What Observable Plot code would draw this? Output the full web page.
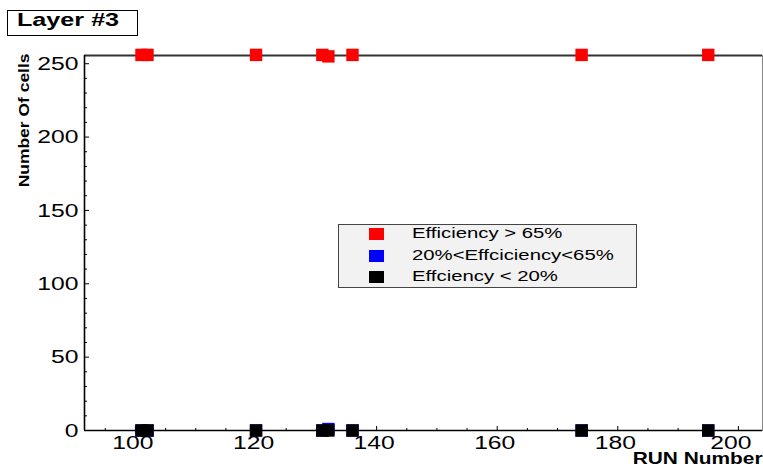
<!DOCTYPE html>
<html><head><meta charset="utf-8">
<script src="https://cdn.jsdelivr.net/npm/d3@7"></script>
<script src="https://cdn.jsdelivr.net/npm/@observablehq/plot@0.6"></script>
<style>
body{margin:0;background:#fff;}
#wrap{position:relative;width:763px;height:470px;overflow:hidden;font-family:"Liberation Sans",Arial,sans-serif;background:#fff;}
#wrap svg{position:absolute;left:0;top:0;}
.abs{position:absolute;box-sizing:border-box;}
.stretch{display:inline-block;white-space:nowrap;transform-origin:0 50%;}
</style></head><body><div id="wrap"></div>
<script>
// ---- data ----
const runs = [101, 102, 120, 131, 132, 136, 174, 195];
const cellsHigh = [256, 256, 256, 256, 255, 256, 256, 256];
const cellsMid = [0, 0, 0, 0, 1, 0, 0, 0];
const cellsLow = [0, 0, 0, 0, 0, 0, 0, 0];
const seriesNames = ["Efficiency > 65%", "20%<Effciciency<65%", "Effciency < 20%"];
const seriesColors = ["#ff0000", "#0000ff", "#000000"];
const xMajor = [100, 120, 140, 160, 180, 200];
const xMinor = [95, 105, 110, 115, 125, 130, 135, 145, 150, 155, 165, 170, 175, 185, 190, 195];
const yMajor = [0, 50, 100, 150, 200, 250];
const yMinor = [10, 20, 30, 40, 60, 70, 80, 90, 110, 120, 130, 140, 160, 170, 180, 190, 210, 220, 230, 240];
const xDomain = [91.55, 204];
const yDomain = [0, 255.6];
const titleText = "Layer #3";
const xTitle = "RUN Number";
const yTitle = "Number Of cells";

const seriesValues = [cellsHigh, cellsMid, cellsLow];
const series = seriesValues.map(vals => runs.map((r, i) => ({run: r, cells: vals[i]})));

const plot = Plot.plot({
  width: 763, height: 470,
  marginLeft: 84, marginRight: 1, marginTop: 55, marginBottom: 40,
  style: {fontFamily: '"Liberation Sans", Arial, sans-serif', background: "transparent", color: "#000"},
  x: {domain: xDomain},
  y: {domain: yDomain},
  marks: [
    Plot.frame({stroke: "#888", strokeWidth: 1}),
    Plot.ruleY([yDomain[1]], {stroke: "#333", strokeWidth: 1.8}),
    Plot.ruleY([0], {stroke: "#000", strokeWidth: 1.6}),
    Plot.ruleX([xDomain[0]], {stroke: "#000", strokeWidth: 1.6}),
    Plot.axisY(yMajor, {tickSize: -5, tickFormat: () => "", label: null}),
    Plot.axisY(yMinor, {tickSize: -3, tickFormat: () => "", label: null}),
    Plot.axisX(xMajor, {tickSize: -4, tickFormat: () => "", label: null}),
    Plot.axisX(xMinor, {tickSize: -2, tickFormat: () => "", label: null}),
    Plot.axisY(yMajor, {tickSize: 0, tickPadding: 6, fontSize: 19, label: null}),
    Plot.axisX(xMajor, {tickSize: 0, tickPadding: 5, dx: -2.5, fontSize: 19, label: null}),
    ...series.map((d, k) => Plot.dot(d, {x: "run", y: "cells", fill: seriesColors[k], symbol: "square", r: 7})),
    Plot.text([yTitle], {frameAnchor: "top-left", rotate: -90, textAnchor: "end", dx: -66, dy: -2, fontSize: 15, fontWeight: "bold"}),
    Plot.text([xTitle], {frameAnchor: "bottom-right", textAnchor: "end", dy: 33.5, fontSize: 16.3, fontWeight: "bold"})
  ]
});

// horizontal stretch of text, as in the reference rendering
const svg = d3.select(plot.tagName.toLowerCase() === "svg" ? plot : plot.querySelector("svg"));
function stretch(sel, sx, sy) {
  sel.each(function() {
    const t = this.getAttribute("transform") || "";
    this.setAttribute("transform", t + ` scale(${sx},${sy})`);
  });
}
stretch(svg.selectAll('g[aria-label="y-axis tick label"] text'), 1.3, 1);
stretch(svg.selectAll('g[aria-label="x-axis tick label"] text'), 1.3, 1);
svg.selectAll('g[aria-label="x-axis tick label"] text').each(function() {
  if (this.textContent === String(xMajor[xMajor.length - 1])) {
    this.setAttribute("transform", this.getAttribute("transform").replace(/translate\(([-\d.]+)/, (m, v) => `translate(${+v - 5}`));
  }
});
svg.selectAll("text").each(function() {
  if (this.textContent === yTitle) stretch(d3.select(this), 1.165, 1);
  if (this.textContent === xTitle) stretch(d3.select(this), 1.28, 1);
});

const wrap = document.getElementById("wrap");
wrap.appendChild(plot);

// title box
const tb = document.createElement("div");
tb.className = "abs";
Object.assign(tb.style, {left: "7px", top: "10px", width: "131px", height: "26px", border: "1.5px solid #000", background: "#fff"});
wrap.appendChild(tb);
const tt = document.createElement("div");
tt.className = "abs";
Object.assign(tt.style, {left: "17px", top: "10.9px", fontSize: "18.5px", lineHeight: "18.5px", fontWeight: "bold", color: "#000"});
tt.innerHTML = `<span class="stretch" style="transform:scaleX(1.36)"></span>`;
tt.firstChild.textContent = titleText;
wrap.appendChild(tt);

// legend
const lb = document.createElement("div");
lb.className = "abs";
Object.assign(lb.style, {left: "338px", top: "224px", width: "299px", height: "64px", border: "1.5px solid #444", background: "#f2f2f2"});
wrap.appendChild(lb);
seriesNames.forEach((name, k) => {
  const sw = document.createElement("div");
  sw.className = "abs";
  Object.assign(sw.style, {left: "368.5px", top: (227.8 + k * 21.8) + "px", width: "15px", height: "12px", background: seriesColors[k]});
  wrap.appendChild(sw);
  const lt = document.createElement("div");
  lt.className = "abs";
  Object.assign(lt.style, {left: "412px", top: (224.7 + k * 21.8) + "px", fontSize: "15.4px", lineHeight: "15.4px", color: "#000"});
  lt.innerHTML = `<span class="stretch" style="transform:scaleX(1.32)"></span>`;
  lt.firstChild.textContent = name;
  wrap.appendChild(lt);
});
</script></body></html>
